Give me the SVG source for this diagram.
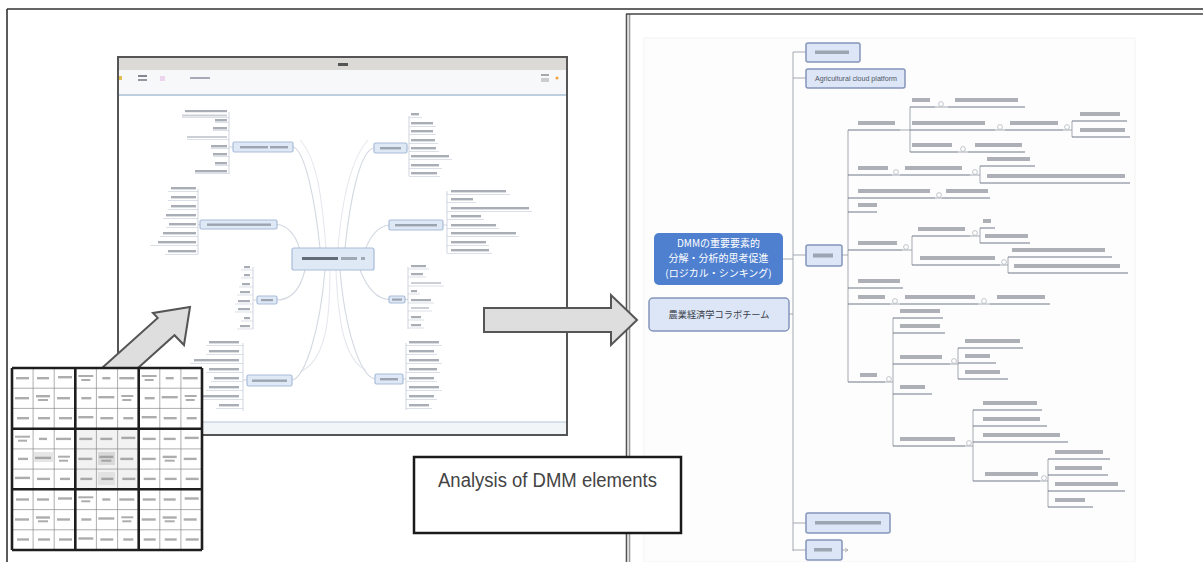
<svg xmlns="http://www.w3.org/2000/svg" width="1203" height="562" viewBox="0 0 1203 562">
<style>
.frame{stroke:#333;stroke-width:1.6;fill:none}
.lb{fill:#6f7684;opacity:.6}
.lbl{fill:#9aa1ad;opacity:.5}
.lu{stroke:#c3cad6;stroke-width:.6;fill:none}
.lbr{stroke:#b9c3d2;stroke-width:.7;fill:none}
.lcv{stroke:#d3d8e1;stroke-width:1.1;fill:none}
.lnd{fill:#dfe8f5;stroke:#a9bcd9;stroke-width:1.2}
.rb{fill:#5d6370;opacity:.5}
.ru{stroke:#6e7889;stroke-width:1.1;fill:none}
.rc{stroke:#9a9fa8;stroke-width:.9;fill:none}
.rk{fill:#fff;stroke:#a8adb5;stroke-width:.7}
.rnd{fill:#dde6f6;stroke:#8495ba;stroke-width:1.5}
.gb{fill:#8a8a8a;opacity:.7}
.gt{stroke:#8c8c8c;stroke-width:.7}
.gk{stroke:#1e1e1e;stroke-width:2.6}
.arr{fill:#dedede;stroke:#555;stroke-width:2;stroke-linejoin:miter}
</style>
<defs>
<g id="blkA">
<rect class="gb" x="4" y="9" width="13" height="2.4"/><rect class="gb" x="25" y="9" width="12" height="2.4"/><rect class="gb" x="46" y="8" width="14" height="2.4"/>
<rect class="gb" x="3" y="29" width="14" height="2.4"/><rect class="gb" x="24" y="27" width="14" height="2.4"/><rect class="gb" x="26" y="31" width="10" height="2"/><rect class="gb" x="45" y="29" width="13" height="2.4"/>
<rect class="gb" x="5" y="49" width="12" height="2.4"/><rect class="gb" x="26" y="49" width="12" height="2.4"/><rect class="gb" x="47" y="49" width="13" height="2.4"/>
</g>
<g id="blkB">
<rect class="gb" x="3" y="7" width="15" height="2"/><rect class="gb" x="6" y="11" width="9" height="2"/><rect class="gb" x="27" y="9" width="8" height="2.4"/><rect class="gb" x="44" y="9" width="15" height="2.4"/>
<rect class="gb" x="6" y="29" width="10" height="2.4"/><rect class="gb" x="23" y="28" width="16" height="2.4"/><rect class="gb" x="46" y="27" width="12" height="2"/><rect class="gb" x="47" y="31" width="9" height="2"/>
<rect class="gb" x="3" y="48" width="15" height="2.4"/><rect class="gb" x="25" y="49" width="13" height="2.4"/><rect class="gb" x="48" y="49" width="10" height="2.4"/>
</g>
</defs>

<g id="frame">
<path class="frame" d="M7 9H1203M7 9V562"/>
<rect x="644" y="38" width="491" height="524" fill="#fdfdfd" stroke="#f3f3f3"/>
<path d="M626.5 14V562" stroke="#555" stroke-width="1.6"/>
<path d="M629.5 14V562" stroke="#9a9a9a" stroke-width="1.6"/>
<path d="M626 14H1203" stroke="#444" stroke-width="1.6"/>
</g>

<g id="left-window">
<rect x="118" y="57" width="449" height="378" fill="#fff" stroke="#555" stroke-width="2"/>
<rect x="119" y="58" width="447" height="12" fill="#dcdad6"/>
<rect x="119" y="70" width="447" height="25" fill="#f7f8f9"/>
<path d="M119 95H566" stroke="#a9c0d6" stroke-width="1.3"/>
<rect x="338" y="63" width="10" height="3" fill="#333" opacity=".8"/>
<rect x="119" y="76" width="3" height="4" fill="#e0c050"/>
<rect x="138" y="75" width="9" height="2" fill="#556" opacity=".7"/><rect x="138" y="79" width="9" height="2" fill="#556" opacity=".6"/>
<rect x="160" y="76" width="5" height="5" fill="#e8c8e8" opacity=".7"/>
<rect x="190" y="77" width="20" height="2" fill="#778" opacity=".6"/>
<rect x="541" y="74" width="8" height="2" fill="#888" opacity=".7"/><rect x="541" y="78" width="8" height="4" fill="#bbb" opacity=".7"/>
<circle cx="557" cy="78" r="1.5" fill="#f0a040"/>
<rect x="119" y="422" width="447" height="12" fill="#f2f5f8"/>
<path d="M119 422H566" stroke="#b5c6d8" stroke-width="1.2"/>
</g>

<g id="left-mindmap">
<path class="lcv" d="M320 248C315 200 305 150 293 147M345 248C350 200 360 150 374 148M300 250C295 232 285 225 277 224.5M365 250C372 232 380 226 389 225M305 270C300 290 290 300 277 300M360 270C368 290 378 299 389 299.5M325 270C320 330 305 378 292 380M340 270C345 330 360 376 375 379"/>
<path class="lcv" d="M326 248C322 200 318 160 300 140M338 248C342 200 350 160 368 140M330 270C330 320 326 360 300 372M336 270C338 320 344 360 366 370" opacity=".6"/>

<g id="lm-center"><rect class="lnd" x="292" y="248" width="82" height="22" rx="2" stroke="#5d80b8" stroke-width="2.5" fill="#e1e9f6"/><rect x="302" y="257" width="36" height="3" fill="#3a4252" opacity=".75"/><rect x="341" y="257" width="16" height="3" fill="#6a7282" opacity=".55"/><rect x="361" y="257" width="4" height="3" fill="#6a7282" opacity=".55"/></g>

<g id="lm-ul"><rect class="lnd" x="233" y="142" width="60" height="10" rx="1.5"/><rect class="lb" x="240" y="146" width="28" height="2.4" opacity=".45"/><rect class="lb" x="270" y="146" width="18" height="2.4"/>
<path class="lbr" d="M229 112V174M229 147H233"/>
<rect class="lb" x="185" y="110" width="42" height="2.2" opacity=".4"/><rect class="lbl" x="182" y="114.5" width="45" height="2"/><rect class="lb" x="215" y="119" width="12" height="2.4"/><rect class="lb" x="213" y="127" width="14" height="2.4"/><rect class="lbl" x="187" y="136" width="40" height="2"/><rect class="lb" x="211" y="145" width="16" height="2.4"/><rect class="lb" x="213" y="153" width="14" height="2.4"/><rect class="lb" x="215" y="162" width="12" height="2.4"/><rect class="lb" x="195" y="170" width="32" height="2.4"/>
<path class="lu" d="M182 117.5H229M215 122.5H229M213 130.5H229M187 139.5H229M211 148.5H229M213 156.5H229M215 165.5H229M195 173.5H229"/></g>

<g id="lm-ur"><rect class="lnd" x="374" y="143" width="33" height="10" rx="1.5"/><rect class="lb" x="380" y="147" width="21" height="2.4"/>
<path class="lbr" d="M409 116V176M407 148H409"/>
<rect class="lb" x="411" y="113" width="8" height="2.4"/><rect class="lb" x="411" y="122" width="22" height="2.4"/><rect class="lb" x="411" y="130" width="22" height="2.4"/><rect class="lb" x="411" y="139" width="24" height="2.4"/><rect class="lb" x="411" y="147" width="25" height="2.4"/><rect class="lb" x="411" y="155" width="38" height="2.4"/><rect class="lb" x="411" y="164" width="28" height="2.4"/><rect class="lb" x="411" y="172" width="26" height="2.4"/>
<path class="lu" d="M409 117.5H422M409 126.5H436M409 134.5H436M409 143.5H438M409 151.5H439M409 159.5H452M409 168.5H442M409 176.5H440"/></g>

<g id="lm-lm"><rect class="lnd" x="200" y="220" width="77" height="9" rx="1.5"/><rect class="lb" x="207" y="223.5" width="64" height="2.4"/>
<path class="lbr" d="M198 189V254M198 224.5H200"/>
<rect class="lb" x="171" y="187" width="25" height="2.4"/><rect class="lb" x="171" y="196" width="25" height="2.4"/><rect class="lb" x="171" y="205" width="25" height="2.4"/><rect class="lb" x="166" y="214" width="30" height="2.4"/><rect class="lb" x="169" y="223" width="27" height="2.4"/><rect class="lb" x="163" y="232" width="33" height="2.4"/><rect class="lb" x="158" y="241" width="38" height="2.4"/><rect class="lb" x="168" y="250" width="28" height="2.4"/>
<path class="lu" d="M168 191.5H198M168 200.5H198M168 209.5H198M163 218.5H198M166 227.5H198M160 236.5H198M150 245.5H198M165 254.5H198"/></g>

<g id="lm-rm"><rect class="lnd" x="389" y="220" width="54" height="10" rx="1.5"/><rect class="lb" x="395" y="224" width="42" height="2.4"/>
<path class="lbr" d="M447 191V253M443 225H447"/>
<rect class="lb" x="451" y="190" width="55" height="2.4"/><rect class="lb" x="451" y="198" width="22" height="2.4"/><rect class="lb" x="451" y="207" width="78" height="2.4"/><rect class="lb" x="451" y="215" width="30" height="2.4"/><rect class="lb" x="451" y="224" width="45" height="2.4"/><rect class="lb" x="451" y="232" width="65" height="2.4"/><rect class="lb" x="451" y="241" width="35" height="2.4"/><rect class="lb" x="451" y="249" width="38" height="2.4"/>
<path class="lu" d="M447 194.5H510M447 202.5H476M447 211.5H532M447 219.5H484M447 228.5H499M447 236.5H519M447 245.5H489M447 253.5H492"/></g>

<g id="lm-ll"><rect class="lnd" x="257" y="296" width="20" height="8" rx="1.5"/><rect class="lb" x="261" y="299" width="12" height="2.2"/>
<path class="lbr" d="M253 267V329M253 300H257"/>
<rect class="lb" x="244" y="266" width="6" height="2.2"/><rect class="lb" x="244" y="274" width="6" height="2.2"/><rect class="lb" x="242" y="283" width="8" height="2.2"/><rect class="lb" x="240" y="291" width="10" height="2.2"/><rect class="lb" x="238" y="300" width="12" height="2.2"/><rect class="lb" x="238" y="308" width="12" height="2.2"/><rect class="lb" x="244" y="317" width="6" height="2.2"/><rect class="lb" x="240" y="325" width="10" height="2.2"/>
<path class="lu" d="M241 270H253M241 278H253M239 287H253M237 295H253M235 304H253M235 312H253M241 321H253M237 329H253"/></g>

<g id="lm-lr"><rect class="lnd" x="389" y="296" width="16" height="7" rx="1.5"/><rect class="lb" x="392" y="298.5" width="10" height="2.2"/>
<path class="lbr" d="M408 267V329M405 299.5H408"/>
<rect class="lb" x="411" y="265" width="15" height="2.2"/><rect class="lb" x="411" y="273" width="12" height="2.2"/><rect class="lbl" x="411" y="282" width="30" height="2"/><rect class="lb" x="411" y="290" width="6" height="2.2"/><rect class="lb" x="411" y="299" width="20" height="2.2"/><rect class="lbl" x="411" y="307" width="18" height="2"/><rect class="lb" x="411" y="316" width="10" height="2.2"/><rect class="lb" x="411" y="324" width="10" height="2.2"/>
<path class="lu" d="M408 269H429M408 277H426M408 286H444M408 294H420M408 303H434M408 311H432M408 320H424M408 328H424"/></g>

<g id="lm-bl"><rect class="lnd" x="247" y="375" width="45" height="11" rx="1.5"/><rect class="lb" x="252" y="379.5" width="35" height="2.4" opacity=".4"/>
<path class="lbr" d="M243 343V411M243 380H247"/>
<rect class="lb" x="209" y="341" width="30" height="2.4"/><rect class="lb" x="209" y="350" width="30" height="2.4"/><rect class="lb" x="194" y="359" width="45" height="2.4"/><rect class="lb" x="209" y="368" width="30" height="2.4"/><rect class="lb" x="214" y="377" width="25" height="2.4"/><rect class="lb" x="209" y="386" width="30" height="2.4"/><rect class="lb" x="199" y="395" width="40" height="2.4"/><rect class="lb" x="219" y="404" width="20" height="2.4"/>
<path class="lu" d="M206 345.5H243M206 354.5H243M190 363.5H243M206 372.5H243M211 381.5H243M206 390.5H243M196 399.5H243M216 408.5H243"/></g>

<g id="lm-br"><rect class="lnd" x="375" y="374" width="28" height="10" rx="1.5"/><rect class="lb" x="380" y="378" width="18" height="2.4"/>
<path class="lbr" d="M406 343V410M403 379H406"/>
<rect class="lb" x="409" y="341" width="30" height="2.4"/><rect class="lb" x="409" y="350" width="25" height="2.4"/><rect class="lb" x="409" y="359" width="30" height="2.4"/><rect class="lb" x="409" y="368" width="28" height="2.4"/><rect class="lb" x="409" y="377" width="25" height="2.4"/><rect class="lb" x="409" y="386" width="30" height="2.4"/><rect class="lb" x="409" y="395" width="25" height="2.4"/><rect class="lb" x="409" y="404" width="20" height="2.4"/>
<path class="lu" d="M406 345.5H442M406 354.5H437M406 363.5H442M406 372.5H440M406 381.5H437M406 390.5H442M406 399.5H437M406 408.5H432"/></g>
</g>

<g id="arrow-up">
<polygon class="arr" points="102,368 157.7,317.9 153,313 190,307 184,345 174.5,335.2 138,368"/>
</g>

<g id="dmm-grid">
<rect x="12" y="368" width="190" height="182" fill="#fff"/>
<rect x="75.3" y="428.7" width="63.4" height="60.6" fill="#f2f2f2"/>
<rect x="98" y="452" width="17" height="13" fill="#d9d9d9"/>
<rect x="98" y="472" width="17" height="13" fill="#e2e2e2"/>
<rect x="34" y="452" width="19" height="10" fill="#e6e6e6"/>
<use href="#blkA" x="12" y="368"/><use href="#blkB" x="75.3" y="368"/><use href="#blkB" x="138.7" y="368"/>
<use href="#blkB" x="12" y="428.7"/><use href="#blkA" x="75.3" y="428.7"/><use href="#blkA" x="138.7" y="428.7"/>
<use href="#blkA" x="12" y="489.3"/><use href="#blkB" x="75.3" y="489.3"/><use href="#blkA" x="138.7" y="489.3"/>
<path class="gt" d="M33.1 368V550M54.2 368V550M96.4 368V550M117.6 368V550M159.8 368V550M180.9 368V550M12 388.2H202M12 408.4H202M12 448.9H202M12 469.1H202M12 509.6H202M12 529.8H202"/>
<path class="gk" d="M12 368H202M12 428.7H202M12 489.3H202M12 550H202M12 368V550M75.3 368V550M138.7 368V550M202 368V550"/>
</g>

<g id="right-mindmap">
<g id="connectors">
<path class="rc" d="M793 52V551M793 52H806M793 78H806M793 255H806M793 523H806M793 550H806M783 259H793M789 314H793"/>
<path class="rc" d="M842 255H848M848 130V382M900 130H910M910 107V152M935 107H948M995 130H1005M1063 130H1072M1072 121V137M958 152H968M892 175H900M970 175H980M980 166V183M935 198H942M902 250H912M912 236V265M970 236H980M980 228V243M1000 265H1008M1008 257V273M890 304H900M978 304H990M885 382H893M893 318V446M950 364H958M958 348V379M965 446H973M973 410V481M1040 481H1048M1048 459V507M842 550H848"/>
<path class="ru" d="M848 130H900M910 107H935M948 107H1025M910 130H995M1005 130H1063M1072 121H1127M1072 137H1130M910 152H958M968 152H1025M848 175H892M900 175H970M980 166H1035M980 183H1130M848 198H935M942 198H990M848 212H877M848 250H902M912 236H970M980 228H995M980 243H1030M912 265H1000M1008 257H1112M1008 273H1128M848 288H903M848 304H890M900 304H978M990 304H1050M848 382H885M893 318H943M893 333H945M893 364H950M958 348H1023M958 363H996M958 379H1008M893 394H932M893 446H965M973 410H1042M973 426H1047M973 442H1068M973 481H1040M1048 459H1110M1048 475H1108M1048 491H1125M1048 507H1093"/>
<g class="rk"><circle cx="941" cy="104" r="2.4"/><circle cx="1000" cy="127" r="2.4"/><circle cx="1067" cy="127" r="2.4"/><circle cx="963" cy="149" r="2.4"/><circle cx="896" cy="172" r="2.4"/><circle cx="975" cy="172" r="2.4"/><circle cx="939" cy="195" r="2.4"/><circle cx="906" cy="247" r="2.4"/><circle cx="975" cy="233" r="2.4"/><circle cx="1004" cy="262" r="2.4"/><circle cx="895" cy="301" r="2.4"/><circle cx="984" cy="301" r="2.4"/><circle cx="889" cy="379" r="2.4"/><circle cx="954" cy="361" r="2.4"/><circle cx="969" cy="443" r="2.4"/><circle cx="1044" cy="478" r="2.4"/></g>
</g>

<g id="rm-main"><rect x="654" y="233" width="129" height="52" rx="5" fill="#4f7fcf"/>
<g font-family="Noto Sans CJK JP, Noto Sans CJK SC, sans-serif" font-size="10" fill="#fff" text-anchor="middle"><text x="718.5" y="247">DMMの重要要素的</text><text x="718.5" y="262">分解・分析的思考促進</text><text x="718.5" y="277">(ロジカル・シンキング)</text></g></g>

<g id="rm-team"><rect class="rnd" x="649" y="298" width="140" height="33" rx="4" stroke="#6f82b0" stroke-width="1.8"/><text x="719" y="318" font-family="Noto Sans CJK JP, Noto Sans CJK SC, sans-serif" font-size="9.5" fill="#3a3f4a" text-anchor="middle" textLength="101" lengthAdjust="spacingAndGlyphs">農業経済学コラボチーム</text></g>

<g id="rm-n1"><rect class="rnd" x="806" y="43" width="54" height="19" rx="2"/><rect class="rb" x="815" y="50.5" width="34" height="3.5"/></g>
<g id="rm-n2"><rect class="rnd" x="806" y="69" width="99" height="19" rx="2"/><text x="815" y="80.5" font-family="Liberation Sans, Arial, sans-serif" font-size="6.5" fill="#4f5666" textLength="82" lengthAdjust="spacingAndGlyphs">Agricultural cloud platform</text></g>
<g id="rm-n3"><rect class="rnd" x="806" y="245" width="36" height="21" rx="2"/><rect class="rb" x="813" y="253.5" width="20" height="4"/></g>
<g id="rm-n4"><rect class="rnd" x="806" y="513" width="84" height="20" rx="2"/><rect class="rb" x="815" y="521" width="66" height="3.5"/></g>
<g id="rm-n5"><rect class="rnd" x="806" y="540" width="36" height="20" rx="2"/><rect class="rb" x="814" y="548" width="18" height="3.5"/><path d="M845 548L848 550L845 552" stroke="#aaa" fill="none" stroke-width=".8"/></g>

<g id="rm-leaves">
<rect class="rb" x="858" y="121" width="37" height="4"/>
<rect class="rb" x="912" y="98" width="18" height="4"/><rect class="rb" x="955" y="98" width="63" height="4"/>
<rect class="rb" x="912" y="121" width="73" height="4"/><rect class="rb" x="1010" y="121" width="48" height="4"/><rect class="rb" x="1080" y="112" width="40" height="4"/><rect class="rb" x="1080" y="128" width="45" height="4"/>
<rect class="rb" x="912" y="143" width="40" height="4"/><rect class="rb" x="975" y="143" width="47" height="4"/>
<rect class="rb" x="858" y="166" width="30" height="4"/><rect class="rb" x="905" y="166" width="57" height="4"/><rect class="rb" x="987" y="157" width="43" height="4"/><rect class="rb" x="987" y="174" width="138" height="4"/>
<rect class="rb" x="858" y="189" width="72" height="4"/><rect class="rb" x="946" y="189" width="42" height="4"/>
<rect class="rb" x="858" y="203" width="19" height="4"/>
<rect class="rb" x="858" y="241" width="39" height="4"/><rect class="rb" x="918" y="227" width="47" height="4"/><rect class="rb" x="983" y="219" width="8" height="4"/><rect class="rb" x="985" y="234" width="43" height="4"/><rect class="rb" x="920" y="256" width="75" height="4"/><rect class="rb" x="1012" y="248" width="93" height="4"/><rect class="rb" x="1014" y="264" width="106" height="4"/>
<rect class="rb" x="858" y="279" width="42" height="4"/>
<rect class="rb" x="858" y="295" width="27" height="4"/><rect class="rb" x="905" y="295" width="70" height="4"/><rect class="rb" x="997" y="295" width="48" height="4"/>
<rect class="rb" x="860" y="373" width="17" height="4"/>
<rect class="rb" x="900" y="309" width="40" height="4"/><rect class="rb" x="900" y="324" width="40" height="4"/><rect class="rb" x="900" y="355" width="42" height="4"/><rect class="rb" x="965" y="339" width="55" height="4"/><rect class="rb" x="965" y="354" width="25" height="4"/><rect class="rb" x="965" y="370" width="35" height="4"/><rect class="rb" x="900" y="385" width="25" height="4"/>
<rect class="rb" x="900" y="437" width="55" height="4"/><rect class="rb" x="983" y="401" width="54" height="4"/><rect class="rb" x="983" y="417" width="57" height="4"/><rect class="rb" x="983" y="433" width="77" height="4"/><rect class="rb" x="985" y="472" width="53" height="4"/>
<rect class="rb" x="1055" y="450" width="48" height="4"/><rect class="rb" x="1055" y="466" width="47" height="4"/><rect class="rb" x="1055" y="482" width="63" height="4"/><rect class="rb" x="1055" y="498" width="30" height="4"/>
</g>
</g>

<g id="arrow-right">
<polygon class="arr" points="484,308 611,308 611,295 637,320 611,345 611,332 484,332"/>
</g>

<g id="caption">
<rect x="414" y="457" width="267" height="76" fill="#fff" stroke="#1a1a1a" stroke-width="2.5"/>
<text x="438" y="487" font-family="Liberation Sans, Arial, sans-serif" font-size="20" fill="#444" textLength="219" lengthAdjust="spacingAndGlyphs">Analysis of DMM elements</text>
</g>
</svg>
